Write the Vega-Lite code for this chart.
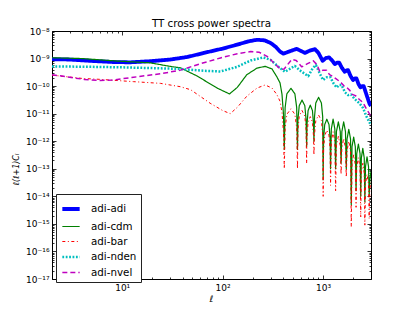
{
"$schema": "https://vega.github.io/schema/vega-lite/v6.json",
"width": 319, "height": 248,
"autosize": "none",
"padding": {"left": 52, "top": 31, "right": 42, "bottom": 31},
"background": "white",
"title": {"text": "TT cross power spectra", "font": "DejaVu Sans", "fontSize": 10.3, "fontWeight": "normal", "color": "black", "offset": 1, "dy": 3},
"data": {"values": [
{"s":"adi-adi","l":2,"v":9.5e-10},{"s":"adi-adi","l":3,"v":9.2e-10},{"s":"adi-adi","l":5,"v":8.2e-10},{"s":"adi-adi","l":8,"v":7.5e-10},{"s":"adi-adi","l":12,"v":7.3e-10},{"s":"adi-adi","l":19,"v":8.0e-10},{"s":"adi-adi","l":30,"v":9.2e-10},{"s":"adi-adi","l":45,"v":1.15e-9},{"s":"adi-adi","l":65,"v":1.6e-9},{"s":"adi-adi","l":100,"v":2.3e-9},{"s":"adi-adi","l":140,"v":3.2e-9},{"s":"adi-adi","l":180,"v":4.2e-9},{"s":"adi-adi","l":220,"v":4.8e-9},{"s":"adi-adi","l":260,"v":4.6e-9},{"s":"adi-adi","l":300,"v":3.7e-9},{"s":"adi-adi","l":340,"v":2.6e-9},{"s":"adi-adi","l":373,"v":1.8e-9},{"s":"adi-adi","l":402,"v":1.5e-9},{"s":"adi-adi","l":450,"v":1.75e-9},{"s":"adi-adi","l":546,"v":2.25e-9},{"s":"adi-adi","l":600,"v":1.9e-9},{"s":"adi-adi","l":661,"v":1.6e-9},{"s":"adi-adi","l":740,"v":1.95e-9},{"s":"adi-adi","l":830,"v":2.2e-9},{"s":"adi-adi","l":900,"v":1.6e-9},{"s":"adi-adi","l":989,"v":8.3e-10},{"s":"adi-adi","l":1070,"v":1.05e-9},{"s":"adi-adi","l":1149,"v":1.1e-9},{"s":"adi-adi","l":1230,"v":8.5e-10},{"s":"adi-adi","l":1309,"v":6.3e-10},{"s":"adi-adi","l":1380,"v":7.1e-10},{"s":"adi-adi","l":1446,"v":7.1e-10},{"s":"adi-adi","l":1545,"v":4.5e-10},{"s":"adi-adi","l":1645,"v":3.3e-10},{"s":"adi-adi","l":1710,"v":3.7e-10},{"s":"adi-adi","l":1775,"v":3.8e-10},{"s":"adi-adi","l":1880,"v":2.3e-10},{"s":"adi-adi","l":1988,"v":1.66e-10},{"s":"adi-adi","l":2070,"v":1.9e-10},{"s":"adi-adi","l":2149,"v":1.9e-10},{"s":"adi-adi","l":2250,"v":1.2e-10},{"s":"adi-adi","l":2355,"v":9e-11},{"s":"adi-adi","l":2450,"v":1.0e-10},{"s":"adi-adi","l":2537,"v":1.0e-10},{"s":"adi-adi","l":2700,"v":5e-11},{"s":"adi-adi","l":2911,"v":2.2e-11},{"s":"adi-adi","l":3000,"v":1.9e-11},

{"s":"adi-cdm","l":2,"v":1.07e-9},{"s":"adi-cdm","l":4,"v":1.0e-9},{"s":"adi-cdm","l":9,"v":8.1e-10},{"s":"adi-cdm","l":19,"v":7.0e-10},{"s":"adi-cdm","l":30,"v":5.2e-10},{"s":"adi-cdm","l":38,"v":4.6e-10},{"s":"adi-cdm","l":56,"v":2.3e-10},{"s":"adi-cdm","l":88,"v":8.5e-11},{"s":"adi-cdm","l":117,"v":5.2e-11},{"s":"adi-cdm","l":140,"v":9e-11},{"s":"adi-cdm","l":174,"v":2.6e-10},{"s":"adi-cdm","l":220,"v":4.5e-10},{"s":"adi-cdm","l":265,"v":5.2e-10},{"s":"adi-cdm","l":310,"v":4.2e-10},{"s":"adi-cdm","l":346,"v":2.2e-10},{"s":"adi-cdm","l":373,"v":1.3e-10},{"s":"adi-cdm","l":390,"v":5e-11},{"s":"adi-cdm","l":403,"v":1e-11},{"s":"adi-cdm","l":411,"v":5e-13},
{"s":"adi-cdm","l":419,"v":1.66e-11},{"s":"adi-cdm","l":436,"v":5.25e-11},{"s":"adi-cdm","l":479,"v":8.3e-11},{"s":"adi-cdm","l":524,"v":5.25e-11},{"s":"adi-cdm","l":546,"v":1.66e-11},{"s":"adi-cdm","l":556,"v":5e-13},
{"s":"adi-cdm","l":562,"v":6.2e-12},{"s":"adi-cdm","l":579,"v":1.95e-11},{"s":"adi-cdm","l":617,"v":3.1e-11},{"s":"adi-cdm","l":658,"v":1.95e-11},{"s":"adi-cdm","l":677,"v":6.2e-12},{"s":"adi-cdm","l":686,"v":6.3e-13},
{"s":"adi-cdm","l":692,"v":4.1e-12},{"s":"adi-cdm","l":709,"v":1.29e-11},{"s":"adi-cdm","l":746,"v":2.04e-11},{"s":"adi-cdm","l":784,"v":1.29e-11},{"s":"adi-cdm","l":803,"v":4.1e-12},{"s":"adi-cdm","l":811,"v":1e-12},
{"s":"adi-cdm","l":822,"v":7.8e-12},{"s":"adi-cdm","l":846,"v":2.45e-11},{"s":"adi-cdm","l":902,"v":3.9e-11},{"s":"adi-cdm","l":962,"v":2.45e-11},{"s":"adi-cdm","l":991,"v":7.8e-12},{"s":"adi-cdm","l":1002,"v":4e-14},
{"s":"adi-cdm","l":1012,"v":1.26e-12},{"s":"adi-cdm","l":1038,"v":4e-12},{"s":"adi-cdm","l":1090,"v":6.3e-12},{"s":"adi-cdm","l":1146,"v":4e-12},{"s":"adi-cdm","l":1175,"v":1.26e-12},{"s":"adi-cdm","l":1187,"v":1e-13},
{"s":"adi-cdm","l":1208,"v":2.8e-12},{"s":"adi-cdm","l":1258,"v":6.3e-12},{"s":"adi-cdm","l":1309,"v":2.8e-12},{"s":"adi-cdm","l":1333,"v":1e-13},
{"s":"adi-cdm","l":1358,"v":2.24e-12},{"s":"adi-cdm","l":1419,"v":5e-12},{"s":"adi-cdm","l":1483,"v":2.24e-12},{"s":"adi-cdm","l":1511,"v":1.6e-13},
{"s":"adi-cdm","l":1538,"v":2.24e-12},{"s":"adi-cdm","l":1603,"v":5e-12},{"s":"adi-cdm","l":1671,"v":2.24e-12},{"s":"adi-cdm","l":1702,"v":1e-13},
{"s":"adi-cdm","l":1732,"v":1.2e-12},{"s":"adi-cdm","l":1803,"v":2.7e-12},{"s":"adi-cdm","l":1877,"v":1.2e-12},{"s":"adi-cdm","l":1908,"v":5e-15},
{"s":"adi-cdm","l":1941,"v":6.3e-13},{"s":"adi-cdm","l":2016,"v":1.41e-12},{"s":"adi-cdm","l":2094,"v":6.3e-13},{"s":"adi-cdm","l":2130,"v":1.6e-14},
{"s":"adi-cdm","l":2163,"v":3.55e-13},{"s":"adi-cdm","l":2246,"v":7.9e-13},{"s":"adi-cdm","l":2333,"v":3.55e-13},{"s":"adi-cdm","l":2371,"v":1e-14},
{"s":"adi-cdm","l":2404,"v":2.45e-13},{"s":"adi-cdm","l":2486,"v":5.5e-13},{"s":"adi-cdm","l":2570,"v":2.45e-13},{"s":"adi-cdm","l":2606,"v":6.3e-15},
{"s":"adi-cdm","l":2645,"v":1.2e-13},{"s":"adi-cdm","l":2738,"v":2.7e-13},{"s":"adi-cdm","l":2835,"v":1.2e-13},{"s":"adi-cdm","l":2877,"v":1e-14},
{"s":"adi-cdm","l":2924,"v":4e-14},{"s":"adi-cdm","l":3000,"v":7.9e-14},

{"s":"adi-bar","l":2,"v":2.5e-10},{"s":"adi-bar","l":4,"v":1.9e-10},{"s":"adi-bar","l":6,"v":1.76e-10},{"s":"adi-bar","l":13,"v":1.45e-10},{"s":"adi-bar","l":24,"v":1.26e-10},{"s":"adi-bar","l":38,"v":9.5e-11},{"s":"adi-bar","l":48,"v":7.4e-11},{"s":"adi-bar","l":75,"v":2.4e-11},{"s":"adi-bar","l":100,"v":1.3e-11},{"s":"adi-bar","l":119,"v":1.0e-11},{"s":"adi-bar","l":140,"v":1.7e-11},{"s":"adi-bar","l":174,"v":4.3e-11},{"s":"adi-bar","l":220,"v":8.5e-11},{"s":"adi-bar","l":265,"v":1.1e-10},{"s":"adi-bar","l":310,"v":8.5e-11},{"s":"adi-bar","l":346,"v":5e-11},{"s":"adi-bar","l":373,"v":2.8e-11},{"s":"adi-bar","l":390,"v":1.1e-11},{"s":"adi-bar","l":403,"v":2.2e-12},{"s":"adi-bar","l":411,"v":1e-13},
{"s":"adi-bar","l":419,"v":3e-12},{"s":"adi-bar","l":436,"v":9.5e-12},{"s":"adi-bar","l":479,"v":1.5e-11},{"s":"adi-bar","l":524,"v":9.5e-12},{"s":"adi-bar","l":546,"v":3e-12},{"s":"adi-bar","l":556,"v":1e-13},
{"s":"adi-bar","l":562,"v":2.6e-12},{"s":"adi-bar","l":579,"v":8.1e-12},{"s":"adi-bar","l":617,"v":1.3e-11},{"s":"adi-bar","l":658,"v":8.1e-12},{"s":"adi-bar","l":677,"v":2.6e-12},{"s":"adi-bar","l":686,"v":1.6e-13},
{"s":"adi-bar","l":692,"v":1.55e-12},{"s":"adi-bar","l":709,"v":4.9e-12},{"s":"adi-bar","l":746,"v":7.8e-12},{"s":"adi-bar","l":784,"v":4.9e-12},{"s":"adi-bar","l":803,"v":1.55e-12},{"s":"adi-bar","l":811,"v":3.2e-13},
{"s":"adi-bar","l":822,"v":1.78e-12},{"s":"adi-bar","l":846,"v":5.6e-12},{"s":"adi-bar","l":902,"v":8.9e-12},{"s":"adi-bar","l":962,"v":5.6e-12},{"s":"adi-bar","l":991,"v":1.78e-12},{"s":"adi-bar","l":1002,"v":1e-14},
{"s":"adi-bar","l":1012,"v":5e-13},{"s":"adi-bar","l":1038,"v":1.58e-12},{"s":"adi-bar","l":1090,"v":2.5e-12},{"s":"adi-bar","l":1146,"v":1.58e-12},{"s":"adi-bar","l":1175,"v":5e-13},{"s":"adi-bar","l":1187,"v":2.5e-14},
{"s":"adi-bar","l":1208,"v":9.8e-13},{"s":"adi-bar","l":1258,"v":2.2e-12},{"s":"adi-bar","l":1309,"v":9.8e-13},{"s":"adi-bar","l":1333,"v":1.6e-14},
{"s":"adi-bar","l":1358,"v":6.8e-13},{"s":"adi-bar","l":1419,"v":1.5e-12},{"s":"adi-bar","l":1483,"v":6.8e-13},{"s":"adi-bar","l":1511,"v":6.3e-14},
{"s":"adi-bar","l":1538,"v":5.6e-13},{"s":"adi-bar","l":1603,"v":1.26e-12},{"s":"adi-bar","l":1671,"v":5.6e-13},{"s":"adi-bar","l":1702,"v":5e-14},
{"s":"adi-bar","l":1732,"v":4.5e-13},{"s":"adi-bar","l":1803,"v":1e-12},{"s":"adi-bar","l":1877,"v":4.5e-13},{"s":"adi-bar","l":1908,"v":8e-16},
{"s":"adi-bar","l":1941,"v":1.4e-13},{"s":"adi-bar","l":2016,"v":3.2e-13},{"s":"adi-bar","l":2094,"v":1.4e-13},{"s":"adi-bar","l":2130,"v":4e-15},
{"s":"adi-bar","l":2163,"v":1.12e-13},{"s":"adi-bar","l":2246,"v":2.5e-13},{"s":"adi-bar","l":2333,"v":1.12e-13},{"s":"adi-bar","l":2371,"v":1.8e-15},
{"s":"adi-bar","l":2404,"v":7.1e-14},{"s":"adi-bar","l":2486,"v":1.58e-13},{"s":"adi-bar","l":2570,"v":7.1e-14},{"s":"adi-bar","l":2606,"v":9e-16},
{"s":"adi-bar","l":2645,"v":2.8e-14},{"s":"adi-bar","l":2738,"v":6.3e-14},{"s":"adi-bar","l":2835,"v":2.8e-14},{"s":"adi-bar","l":2877,"v":1.6e-15},
{"s":"adi-bar","l":2924,"v":2e-14},{"s":"adi-bar","l":3000,"v":3.2e-14},

{"s":"adi-nden","l":2,"v":5.2e-10},{"s":"adi-nden","l":5,"v":5.0e-10},{"s":"adi-nden","l":10,"v":4.8e-10},{"s":"adi-nden","l":20,"v":4.5e-10},{"s":"adi-nden","l":38,"v":4.2e-10},{"s":"adi-nden","l":65,"v":3.6e-10},{"s":"adi-nden","l":95,"v":3.4e-10},{"s":"adi-nden","l":139,"v":5e-10},{"s":"adi-nden","l":190,"v":8.5e-10},{"s":"adi-nden","l":254,"v":1.1e-9},{"s":"adi-nden","l":300,"v":9e-10},{"s":"adi-nden","l":360,"v":5e-10},{"s":"adi-nden","l":418,"v":3.3e-10},{"s":"adi-nden","l":470,"v":4.3e-10},{"s":"adi-nden","l":523,"v":5.4e-10},{"s":"adi-nden","l":600,"v":3.5e-10},{"s":"adi-nden","l":712,"v":2.3e-10},{"s":"adi-nden","l":790,"v":4.5e-10},{"s":"adi-nden","l":849,"v":5.8e-10},{"s":"adi-nden","l":930,"v":2.8e-10},{"s":"adi-nden","l":1000,"v":1.66e-10},{"s":"adi-nden","l":1090,"v":2.1e-10},{"s":"adi-nden","l":1180,"v":2.1e-10},{"s":"adi-nden","l":1280,"v":1.2e-10},{"s":"adi-nden","l":1370,"v":8.9e-11},{"s":"adi-nden","l":1450,"v":1.1e-10},{"s":"adi-nden","l":1528,"v":1.1e-10},{"s":"adi-nden","l":1650,"v":6e-11},{"s":"adi-nden","l":1775,"v":4.7e-11},{"s":"adi-nden","l":1900,"v":5e-11},{"s":"adi-nden","l":2050,"v":3.5e-11},{"s":"adi-nden","l":2317,"v":2.3e-11},{"s":"adi-nden","l":2500,"v":1.6e-11},{"s":"adi-nden","l":2700,"v":8e-12},{"s":"adi-nden","l":3000,"v":3.8e-12},

{"s":"adi-nvel","l":2,"v":2.6e-10},{"s":"adi-nvel","l":3,"v":2.1e-10},{"s":"adi-nvel","l":4.2,"v":1.75e-10},{"s":"adi-nvel","l":6,"v":1.6e-10},{"s":"adi-nvel","l":8,"v":1.65e-10},{"s":"adi-nvel","l":13,"v":2.1e-10},{"s":"adi-nvel","l":24,"v":2.8e-10},{"s":"adi-nvel","l":38,"v":3.8e-10},{"s":"adi-nvel","l":60,"v":6.5e-10},{"s":"adi-nvel","l":95,"v":1.05e-9},{"s":"adi-nvel","l":140,"v":1.5e-9},{"s":"adi-nvel","l":190,"v":1.8e-9},{"s":"adi-nvel","l":230,"v":1.7e-9},{"s":"adi-nvel","l":277,"v":1.2e-9},{"s":"adi-nvel","l":330,"v":6.5e-10},{"s":"adi-nvel","l":380,"v":4e-10},{"s":"adi-nvel","l":410,"v":4.2e-10},{"s":"adi-nvel","l":488,"v":9.3e-10},{"s":"adi-nvel","l":540,"v":8.5e-10},{"s":"adi-nvel","l":612,"v":5e-10},{"s":"adi-nvel","l":700,"v":6.5e-10},{"s":"adi-nvel","l":798,"v":8.3e-10},{"s":"adi-nvel","l":870,"v":6e-10},{"s":"adi-nvel","l":929,"v":3.3e-10},{"s":"adi-nvel","l":1000,"v":3.8e-10},{"s":"adi-nvel","l":1080,"v":3.8e-10},{"s":"adi-nvel","l":1160,"v":2.6e-10},{"s":"adi-nvel","l":1260,"v":2.2e-10},{"s":"adi-nvel","l":1330,"v":1.9e-10},{"s":"adi-nvel","l":1420,"v":1.6e-10},{"s":"adi-nvel","l":1520,"v":1.3e-10},{"s":"adi-nvel","l":1620,"v":1.0e-10},{"s":"adi-nvel","l":1720,"v":9e-11},{"s":"adi-nvel","l":1845,"v":7e-11},{"s":"adi-nvel","l":1950,"v":5e-11},{"s":"adi-nvel","l":2100,"v":4.5e-11},{"s":"adi-nvel","l":2317,"v":3.2e-11},{"s":"adi-nvel","l":2500,"v":2.5e-11},{"s":"adi-nvel","l":2700,"v":1.5e-11},{"s":"adi-nvel","l":3000,"v":8e-12}
]},
"layer": [
{
"mark": {"type": "line", "clip": true, "strokeJoin": "round", "strokeCap": "butt"},
"encoding": {
"x": {"field": "l", "type": "quantitative", "scale": {"type": "log", "domain": [2, 3000], "nice": false},
 "axis": {"orient": "bottom", "title": "ℓ", "titleFont": "DejaVu Sans", "titleFontStyle": "italic", "titleFontWeight": "normal", "titleFontSize": 9, "titleColor": "black", "titleX": 159, "titleY": 19, "titleBaseline": "middle", "titleAlign": "center",
  "values": [2,3,4,5,6,7,8,9,10,20,30,40,50,60,70,80,90,100,200,300,400,500,600,700,800,900,1000,2000,3000],
  "labelExpr": "datum.value == 10 ? '10¹' : datum.value == 100 ? '10²' : datum.value == 1000 ? '10³' : ''",
  "tickSize": {"condition": {"test": "abs(log(datum.value)/LN10 - round(log(datum.value)/LN10)) < 0.01", "value": -4}, "value": -2},
  "labelPadding": 8}},
"y": {"field": "v", "type": "quantitative", "scale": {"type": "log", "domain": [1e-17, 1e-8], "nice": false},
 "axis": {"orient": "left", "title": "ℓ(ℓ+1)Cₗ", "titleFont": "DejaVu Sans", "titleFontStyle": "italic", "titleFontWeight": "normal", "titleFontSize": 8, "titleColor": "black", "titleX": -36, "titleY": 138, "titleBaseline": "middle", "titleAlign": "center", "titleAngle": 270,
  "values": [1e-17,2e-17,3e-17,4e-17,5e-17,6e-17,7e-17,8e-17,9e-17,1e-16,2e-16,3e-16,4e-16,5e-16,6e-16,7e-16,8e-16,9e-16,1e-15,2e-15,3e-15,4e-15,5e-15,6e-15,7e-15,8e-15,9e-15,1e-14,2e-14,3e-14,4e-14,5e-14,6e-14,7e-14,8e-14,9e-14,1e-13,2e-13,3e-13,4e-13,5e-13,6e-13,7e-13,8e-13,9e-13,1e-12,2e-12,3e-12,4e-12,5e-12,6e-12,7e-12,8e-12,9e-12,1e-11,2e-11,3e-11,4e-11,5e-11,6e-11,7e-11,8e-11,9e-11,1e-10,2e-10,3e-10,4e-10,5e-10,6e-10,7e-10,8e-10,9e-10,1e-9,2e-9,3e-9,4e-9,5e-9,6e-9,7e-9,8e-9,9e-9,1e-8],
  "labelExpr": "abs(log(datum.value)/LN10 - round(log(datum.value)/LN10)) < 0.01 ? '10⁻' + ['⁰','¹','²','³','⁴','⁵','⁶','⁷','⁸','⁹','¹⁰','¹¹','¹²','¹³','¹⁴','¹⁵','¹⁶','¹⁷'][round(-log(datum.value)/LN10)] : ''",
  "tickSize": {"condition": {"test": "abs(log(datum.value)/LN10 - round(log(datum.value)/LN10)) < 0.01", "value": -4}, "value": -2},
  "labelPadding": 7}},
"color": {"field": "s", "type": "nominal", "scale": {"domain": ["adi-adi","adi-cdm","adi-bar","adi-nden","adi-nvel"], "range": ["#0000ff","#008000","#ff0000","#00bfbf","#bf00bf"]}, "legend": {"title": null}},
"strokeDash": {"field": "s", "type": "nominal", "scale": {"domain": ["adi-adi","adi-cdm","adi-bar","adi-nden","adi-nvel"], "range": [[1,0],[1,0],[3,2.5,1,2.5],[1.8,1.6],[5,3]]}, "legend": {"title": null}},
"strokeWidth": {"field": "s", "type": "nominal", "scale": {"type": "ordinal", "domain": ["adi-adi","adi-cdm","adi-bar","adi-nden","adi-nvel"], "range": [3.8,1.2,1,2.5,1.5]}, "legend": {"title": null}}
}
},
{
"mark": {"type": "point", "opacity": 0},
"encoding": {
"x": {"field": "l", "type": "quantitative",
 "axis": {"orient": "top", "title": null, "labels": false,
  "values": [2,3,4,5,6,7,8,9,10,20,30,40,50,60,70,80,90,100,200,300,400,500,600,700,800,900,1000,2000,3000],
  "tickSize": {"condition": {"test": "abs(log(datum.value)/LN10 - round(log(datum.value)/LN10)) < 0.01", "value": -4}, "value": -2}}},
"y": {"field": "v", "type": "quantitative",
 "axis": {"orient": "right", "title": null, "labels": false,
  "values": [1e-17,2e-17,3e-17,4e-17,5e-17,6e-17,7e-17,8e-17,9e-17,1e-16,2e-16,3e-16,4e-16,5e-16,6e-16,7e-16,8e-16,9e-16,1e-15,2e-15,3e-15,4e-15,5e-15,6e-15,7e-15,8e-15,9e-15,1e-14,2e-14,3e-14,4e-14,5e-14,6e-14,7e-14,8e-14,9e-14,1e-13,2e-13,3e-13,4e-13,5e-13,6e-13,7e-13,8e-13,9e-13,1e-12,2e-12,3e-12,4e-12,5e-12,6e-12,7e-12,8e-12,9e-12,1e-11,2e-11,3e-11,4e-11,5e-11,6e-11,7e-11,8e-11,9e-11,1e-10,2e-10,3e-10,4e-10,5e-10,6e-10,7e-10,8e-10,9e-10,1e-9,2e-9,3e-9,4e-9,5e-9,6e-9,7e-9,8e-9,9e-9,1e-8],
  "tickSize": {"condition": {"test": "abs(log(datum.value)/LN10 - round(log(datum.value)/LN10)) < 0.01", "value": -4}, "value": -2}}}
}
}
],
"resolve": {"axis": {"x": "independent", "y": "independent"}},
"config": {
"view": {"stroke": "black", "strokeWidth": 1},
"axis": {"domain": false, "grid": false, "tickColor": "black", "tickWidth": 0.8, "labelFont": "DejaVu Sans", "labelFontSize": 9, "labelColor": "black", "labelOverlap": false, "labelFlush": false, "labelBound": false},
"legend": {"orient": "none", "legendX": 4, "legendY": 163, "symbolType": "stroke", "symbolSize": 300, "labelFont": "DejaVu Sans", "labelFontSize": 10.3, "labelColor": "black", "strokeColor": "#222222", "fillColor": "white", "padding": 4, "rowPadding": -2.5, "labelOffset": 9, "cornerRadius": 0}
}
}
